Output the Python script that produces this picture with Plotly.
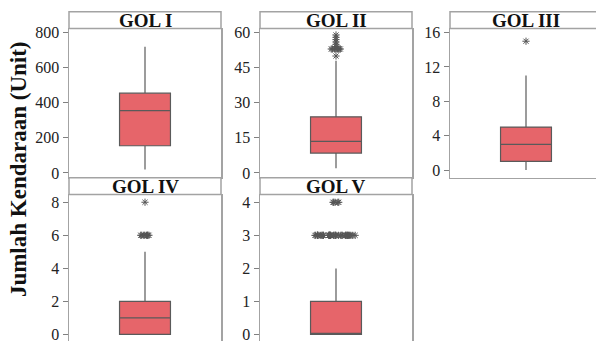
import plotly.graph_objects as go

# ---- data ----
categories = ["GOL I", "GOL II", "GOL III", "GOL IV", "GOL V"]
q1_vals = [155, 8.5, 1, 0, 0]
median_vals = [355, 13.5, 3, 1, 0]
q3_vals = [455, 24, 5, 2, 1]
lower_whisker = [20, 2, 0, 0, 0]
upper_whisker = [720, 48, 11, 5, 2]

y_ranges = [[-28, 824], [-2.1, 61.8], [-0.91, 16.49], [-0.40, 8.47], [-0.198, 4.237]]
y_ticks = [[0, 200, 400, 600, 800], [0, 15, 30, 45, 60], [0, 4, 8, 12, 16],
           [0, 2, 4, 6, 8], [0, 1, 2, 3, 4]]

# outliers: (panel index, values, horizontal spread)
out_gol2_single = [50, 54, 55, 56, 57, 58, 59]
out_gol2_dense = [53, 53, 53, 53, 53, 53, 53, 53]
out_gol3_single = [15]
out_gol4_single = [8]
out_gol4_dense = [6, 6, 6, 6, 6, 6, 6, 6]
out_gol5_dense4 = [4, 4, 4, 4, 4]
out_gol5_dense3 = [3, 3, 3, 3, 3, 3, 3, 3, 3, 3, 3, 3, 3, 3, 3, 3, 3, 3, 3, 3,
                   3, 3, 3, 3, 3, 3, 3, 3, 3, 3, 3, 3, 3, 3, 3, 3, 3, 3, 3, 3]

outlier_groups = [
    (1, out_gol2_single, 0.0),
    (1, out_gol2_dense, 0.22),
    (2, out_gol3_single, 0.0),
    (3, out_gol4_single, 0.0),
    (3, out_gol4_dense, 0.2),
    (4, out_gol5_dense4, 0.14),
    (4, out_gol5_dense3, 0.85),
]

# ---- layout geometry (pixels) ----
W, H = 596, 345
cols = [(69, 221), (260, 412), (450, 596)]
rows = [((8, 25), (25, 178)), ((178, 195), (195, 345))]
panel_pos = [(0, 0), (1, 0), (2, 0), (0, 1), (1, 1)]
UNIT_PX = 152.0
BOX_W = 0.335

FONT = "Liberation Serif, Times New Roman, serif"
FRAME = "#a3a3a3"
BOX_FILL = "#e6656a"
BOX_LINE = "#5a5a5a"
OUT_COL = "#555555"


def px_x(p):
    return p / W


def px_y(p):
    return 1 - p / H


fig = go.Figure()
layout = dict(
    width=W, height=H,
    margin=dict(l=0, r=0, t=0, b=0),
    paper_bgcolor="white", plot_bgcolor="white",
    showlegend=False, boxmode="overlay",
    shapes=[], annotations=[],
)

for i, cat in enumerate(categories):
    c, r = panel_pos[i]
    (x0, x1) = cols[c]
    (s0, s1), (p0, p1) = rows[r]
    n = "" if i == 0 else str(i + 1)
    xa, ya = "x" + n, "y" + n

    width_px = x1 - x0
    xr = [-0.5, -0.5 + width_px / UNIT_PX]

    layout["xaxis" + n] = dict(
        domain=[px_x(x0), px_x(x1)], range=xr, anchor=ya,
        showgrid=False, zeroline=False, showticklabels=False, ticks="",
        showline=(r == 0), linecolor=FRAME, linewidth=1.5, mirror=False,
        fixedrange=True,
    )
    layout["yaxis" + n] = dict(
        domain=[px_y(p1), px_y(p0)], range=y_ranges[i], anchor=xa,
        showgrid=False, zeroline=False,
        tickmode="array", tickvals=y_ticks[i],
        ticks="outside", ticklen=5, tickcolor="#808080", tickwidth=1,
        tickfont=dict(family=FONT, size=16, color="#222"),
        showline=True, linecolor=FRAME, linewidth=1.5,
        mirror=(c != 2), fixedrange=True,
    )

    # strip header
    layout["shapes"].append(dict(
        type="rect", xref="paper", yref="paper",
        x0=px_x(x0), x1=px_x(x1 + (8 if c == 2 else 0)),
        y0=px_y(s1), y1=px_y(s0),
        line=dict(color=FRAME, width=1.5), fillcolor="white", layer="above",
    ))
    layout["annotations"].append(dict(
        text="<b>%s</b>" % cat, xref="paper", yref="paper",
        x=(px_x(x0) + px_x(x1 if c != 2 else x0 + UNIT_PX)) / 2,
        y=(px_y(s0) + px_y(s1)) / 2,
        xanchor="center", yanchor="middle", showarrow=False,
        font=dict(family=FONT, size=19, color="#111"),
    ))

    fig.add_trace(go.Box(
        x=[0], q1=[q1_vals[i]], median=[median_vals[i]], q3=[q3_vals[i]],
        lowerfence=[lower_whisker[i]], upperfence=[upper_whisker[i]],
        width=BOX_W, whiskerwidth=0, boxpoints=False,
        fillcolor=BOX_FILL, line=dict(color=BOX_LINE, width=1.2),
        xaxis=xa, yaxis=ya, hoverinfo="skip",
    ))

for (i, vals, jit) in outlier_groups:
    n = "" if i == 0 else str(i + 1)
    fig.add_trace(go.Box(
        y=vals, x0=0, width=BOX_W, boxpoints="all", jitter=jit, pointpos=0,
        fillcolor="rgba(0,0,0,0)", line=dict(color="rgba(0,0,0,0)", width=0),
        whiskerwidth=0,
        marker=dict(symbol="asterisk-open", size=6, color=OUT_COL,
                    line=dict(color=OUT_COL, width=1)),
        xaxis="x" + n, yaxis="y" + n, hoverinfo="skip",
    ))

layout["annotations"].append(dict(
    text="<b>Jumlah Kendaraan (Unit)</b>", xref="paper", yref="paper",
    x=px_x(18), y=px_y(169), xanchor="center", yanchor="middle",
    textangle=-90, showarrow=False,
    font=dict(family=FONT, size=23, color="#111"),
))

fig.update_layout(**layout)
fig.write_html(
    "out.html",
    config={"displayModeBar": False, "staticPlot": True},
    post_script="document.body.style.margin='0';document.body.style.overflow='hidden';",
)
